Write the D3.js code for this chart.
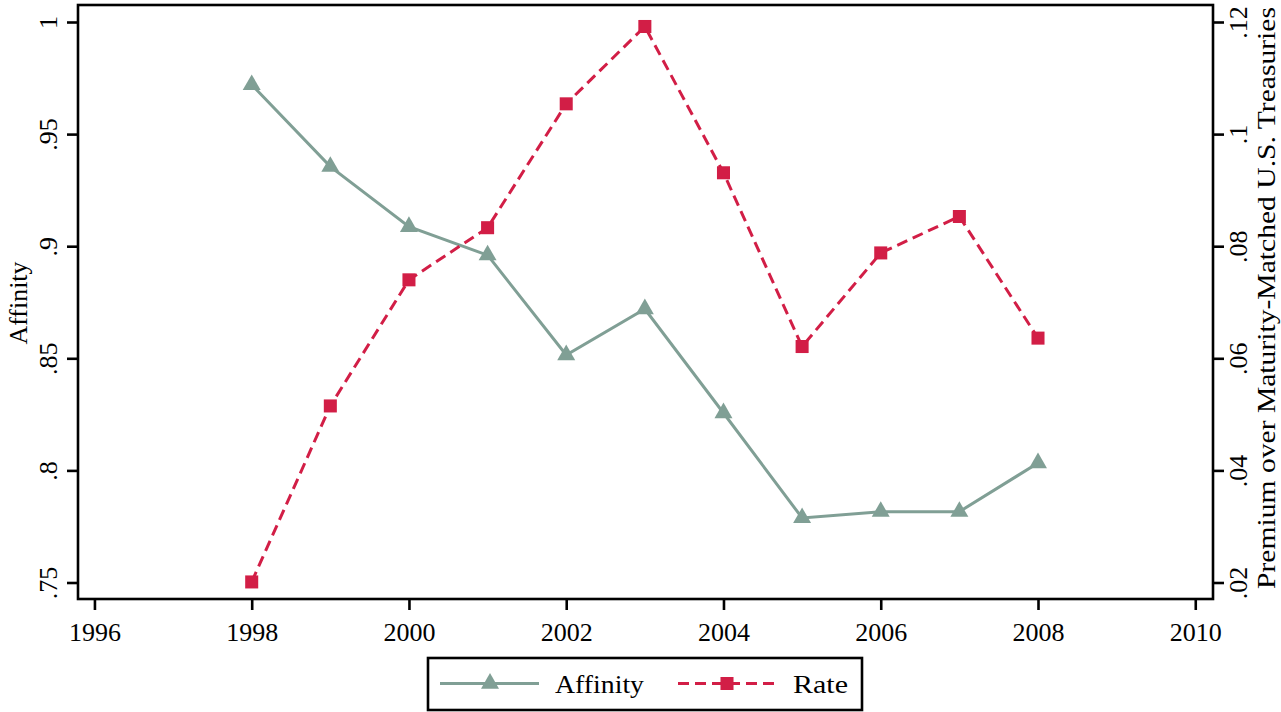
<!DOCTYPE html>
<html><head><meta charset="utf-8">
<script src="https://cdn.jsdelivr.net/npm/d3@7"></script>
<style>html,body{margin:0;padding:0;background:#fff;} svg text{font-family:"Liberation Serif","DejaVu Serif",serif;fill:#000;}</style>
</head><body><svg id="c" width="1281" height="712"></svg>
<script>
const years = [1998,1999,2000,2001,2002,2003,2004,2005,2006,2007,2008];
const affinity = [0.972,0.9355,0.9087,0.896,0.8515,0.872,0.8256,0.7788,0.7816,0.7816,0.8033];
const rate = [0.0201,0.0515,0.074,0.0833,0.1054,0.1192,0.0931,0.0621,0.0788,0.0853,0.0636];
const xTicks = [1996,1998,2000,2002,2004,2006,2008,2010];
const leftTicks = [0.75,0.8,0.85,0.9,0.95,1];
const leftTickLabels = [".75",".8",".85",".9",".95","1"];
const rightTicks = [0.02,0.04,0.06,0.08,0.10,0.12];
const rightTickLabels = [".02",".04",".06",".08",".1",".12"];
const seriesNames = ["Affinity","Rate"];
const leftTitle = "Affinity";
const rightTitle = "Premium over Maturity-Matched U.S. Treasuries";

const green = "#809f95", red = "#d21e46";
const svg = d3.select("#c");
const box = {l:78, r:1213, t:5, b:599};
const x = d3.scaleLinear().domain([1998,2008]).range([251.7,1038]);
const yL = d3.scaleLinear().domain([0.75,1]).range([582.5,22]);
const yR = d3.scaleLinear().domain([0.02,0.12]).range([582.5,22]);
const fs = 26;

// frame
svg.append("rect").attr("x",box.l).attr("y",box.t).attr("width",box.r-box.l).attr("height",box.b-box.t)
  .attr("fill","none").attr("stroke","#000").attr("stroke-width",2.6);

// x axis
const gx = svg.append("g").attr("transform",`translate(0,${box.b})`)
  .call(d3.axisBottom(x).tickValues(xTicks).tickFormat(d3.format("d")).tickSize(11).tickPadding(9));
gx.select(".domain").remove();
gx.selectAll("line").attr("stroke","#000").attr("stroke-width",2.6);
gx.selectAll("text").style("font-size",fs+"px").attr("dy","0.85em");

// left axis
const gl = svg.append("g").attr("transform",`translate(${box.l},0)`)
  .call(d3.axisLeft(yL).tickValues(leftTicks).tickFormat((d,i)=>leftTickLabels[i]).tickSize(11));
gl.select(".domain").remove();
gl.selectAll("line").attr("stroke","#000").attr("stroke-width",2.6);
gl.selectAll("text").attr("x",null).attr("dy",null).attr("text-anchor","middle")
  .attr("transform","translate(-30,0) rotate(-90)").attr("dy","0.35em").style("font-size",fs+"px");

// right axis
const gr = svg.append("g").attr("transform",`translate(${box.r},0)`)
  .call(d3.axisRight(yR).tickValues(rightTicks).tickFormat((d,i)=>rightTickLabels[i]).tickSize(11));
gr.select(".domain").remove();
gr.selectAll("line").attr("stroke","#000").attr("stroke-width",2.6);
gr.selectAll("text").attr("x",null).attr("dy",null).attr("text-anchor","middle")
  .attr("transform","translate(25,0) rotate(-90)").attr("dy","0.35em").style("font-size",fs+"px");

// titles
svg.append("text").attr("transform",`translate(18,303) rotate(-90)`)
  .attr("text-anchor","middle").attr("dy","0.35em").style("font-size",fs+"px")
  .attr("textLength",83).attr("lengthAdjust","spacingAndGlyphs").text(leftTitle);
svg.append("text").attr("transform",`translate(1266,298) rotate(-90)`)
  .attr("text-anchor","middle").attr("dy","0.35em").style("font-size",fs+"px")
  .attr("textLength",582).attr("lengthAdjust","spacingAndGlyphs").text(rightTitle);

// lines
const dA = years.map((y,i)=>[y,affinity[i]]);
const dR = years.map((y,i)=>[y,rate[i]]);
svg.append("path").datum(dA).attr("fill","none").attr("stroke",green).attr("stroke-width",3)
  .attr("d",d3.line().x(d=>x(d[0])).y(d=>yL(d[1])));
svg.append("path").datum(dR).attr("fill","none").attr("stroke",red).attr("stroke-width",3)
  .attr("stroke-dasharray","11,6")
  .attr("d",d3.line().x(d=>x(d[0])).y(d=>yR(d[1])));

const tri = d3.symbol().type(d3.symbolTriangle).size(140);
const sq = d3.symbol().type(d3.symbolSquare).size(170);
svg.append("g").selectAll("path").data(dA).join("path")
  .attr("transform",d=>`translate(${x(d[0])},${yL(d[1])})`).attr("d",tri()).attr("fill",green);
svg.append("g").selectAll("path").data(dR).join("path")
  .attr("transform",d=>`translate(${x(d[0])},${yR(d[1])})`).attr("d",sq()).attr("fill",red);

// legend
const lg = svg.append("g");
lg.append("rect").attr("x",428).attr("y",658).attr("width",434).attr("height",52)
  .attr("fill","#fff").attr("stroke","#000").attr("stroke-width",2.6);
const ly = 683.5;
lg.append("line").attr("x1",440).attr("x2",539).attr("y1",ly).attr("y2",ly).attr("stroke",green).attr("stroke-width",3);
lg.append("path").attr("transform",`translate(490,${ly})`).attr("d",tri()).attr("fill",green);
lg.append("text").attr("x",555).attr("y",ly).attr("dy","0.35em").style("font-size",fs+"px")
  .attr("textLength",89).attr("lengthAdjust","spacingAndGlyphs").text(seriesNames[0]);
lg.append("line").attr("x1",678).attr("x2",778).attr("y1",ly).attr("y2",ly).attr("stroke",red).attr("stroke-width",3).attr("stroke-dasharray","11,6");
lg.append("path").attr("transform",`translate(727,${ly})`).attr("d",sq()).attr("fill",red);
lg.append("text").attr("x",793).attr("y",ly).attr("dy","0.35em").style("font-size",fs+"px")
  .attr("textLength",55).attr("lengthAdjust","spacingAndGlyphs").text(seriesNames[1]);
</script></body></html>
